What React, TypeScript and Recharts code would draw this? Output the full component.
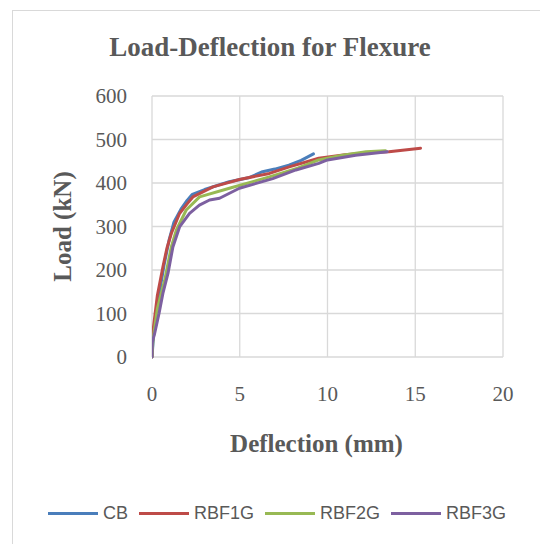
import React from "react";
import { LineChart, Line, XAxis, YAxis, CartesianGrid } from "recharts";

const seriesNames = ["CB", "RBF1G", "RBF2G", "RBF3G"];
const seriesColors = ["#4A7EBB", "#BE4B48", "#98B954", "#7D60A0"];

const xTicks = [0, 5, 10, 15, 20];
const yTicks = [0, 100, 200, 300, 400, 500, 600];

const cbDeflection = [0, 0.1, 0.35, 0.68, 0.98, 1.25, 1.65, 2.0, 2.3, 3.0, 4.4, 5.5, 6.3, 7.0, 7.8, 8.5, 9.2];
const cbLoad = [0, 55, 130, 210, 270, 310, 340, 360, 374, 385, 403, 412, 426, 432, 441, 452, 467];

const rbf1gDeflection = [0, 0.06, 0.3, 0.62, 0.85, 1.1, 1.57, 2.0, 2.33, 3.47, 4.98, 6.69, 7.82, 9.5, 11.0, 12.5, 13.5, 15.3];
const rbf1gLoad = [0, 61, 140, 207, 250, 284, 330, 352, 368, 391, 408, 422, 437, 457, 465, 470, 472, 480];

const rbf2gDeflection = [0, 0.05, 0.3, 0.72, 1.1, 1.39, 1.95, 2.71, 4.41, 6.69, 8.3, 9.5, 10.85, 12.2, 13.3];
const rbf2gLoad = [0, 38, 110, 176, 253, 292, 338, 368, 388, 414, 434, 453, 464, 472, 474];

const rbf3gDeflection = [0, 0.02, 0.15, 0.4, 0.62, 0.91, 1.19, 1.57, 2.14, 2.7, 3.28, 3.85, 4.98, 6.88, 8.2, 9.5, 10.0, 11.6, 13.4];
const rbf3gLoad = [0, 35, 54, 100, 146, 192, 253, 299, 330, 349, 361, 365, 388, 410, 430, 445, 453, 464, 472];

const zip = (xs: number[], ys: number[]) => xs.map((x, i) => ({ x, y: ys[i] }));

const seriesData = [
  zip(cbDeflection, cbLoad),
  zip(rbf1gDeflection, rbf1gLoad),
  zip(rbf2gDeflection, rbf2gLoad),
  zip(rbf3gDeflection, rbf3gLoad),
];

const textColor = "#595959";
const serif = "'Liberation Serif', 'Times New Roman', serif";
const sans = "'Liberation Sans', Arial, sans-serif";

const YTitle = (props: any) => {
  const vb = props.viewBox || { x: 0, y: 0, width: 0, height: 0 };
  const cx = vb.x + 62;
  const cy = vb.y + vb.height / 2;
  return (
    <text
      x={cx}
      y={cy}
      transform={`rotate(-90, ${cx}, ${cy})`}
      textAnchor="middle"
      dominantBaseline="central"
      fontFamily={serif}
      fontWeight="bold"
      fontSize={25}
      fill={textColor}
    >
      Load (kN)
    </text>
  );
};

const XTitle = (props: any) => {
  const vb = props.viewBox || { x: 0, y: 0, width: 0, height: 0 };
  const cx = vb.x + vb.width / 2 - 11;
  const cy = vb.y + 86;
  return (
    <text
      x={cx}
      y={cy}
      textAnchor="middle"
      dominantBaseline="central"
      fontFamily={serif}
      fontWeight="bold"
      fontSize={25}
      fill={textColor}
    >
      Deflection (mm)
    </text>
  );
};

export default function App() {
  return (
    <div style={{ position: "absolute", left: 0, top: 0, width: 540, height: 544, background: "#fff", overflow: "hidden" }}>
      <div
        style={{
          position: "absolute",
          left: 12,
          top: 10,
          width: 560,
          height: 560,
          border: "1.5px solid #d9d9d9",
          boxSizing: "border-box",
        }}
      />
      <div
        style={{
          position: "absolute",
          left: 0,
          top: 30,
          width: 540,
          textAlign: "center",
          fontFamily: serif,
          fontWeight: "bold",
          fontSize: 27,
          color: textColor,
          lineHeight: "34px",
        }}
      >
        Load-Deflection for Flexure
      </div>
      <div style={{ position: "absolute", left: 0, top: 0 }}>
        <LineChart width={540} height={544} margin={{ top: 96, right: 37, bottom: 0, left: 0 }}>
          <CartesianGrid stroke="#d9d9d9" strokeWidth={1.3} horizontal vertical />
          <XAxis
            type="number"
            dataKey="x"
            domain={[0, 20]}
            ticks={xTicks}
            allowDataOverflow
            height={187}
            axisLine={false}
            tickLine={false}
            tickSize={0}
            tickMargin={29}
            tick={{ fontFamily: serif, fontSize: 21, fill: textColor }}
            label={{ content: XTitle }}
          />
          <YAxis
            type="number"
            dataKey="y"
            domain={[0, 600]}
            ticks={yTicks}
            width={152}
            axisLine={false}
            tickLine={false}
            tickSize={0}
            tickMargin={25}
            tick={{ fontFamily: serif, fontSize: 21, fill: textColor }}
            label={{ content: YTitle }}
          />
          {seriesData.map((d, i) => (
            <Line
              key={seriesNames[i]}
              data={d}
              dataKey="y"
              name={seriesNames[i]}
              type="linear"
              stroke={seriesColors[i]}
              strokeWidth={3}
              strokeLinejoin="round"
              strokeLinecap="round"
              dot={false}
              isAnimationActive={false}
            />
          ))}
        </LineChart>
      </div>
      <div
        style={{
          position: "absolute",
          left: 48,
          top: 502,
          display: "flex",
          alignItems: "center",
          fontFamily: sans,
          fontSize: 18,
          color: textColor,
          lineHeight: "22px",
        }}
      >
        {seriesNames.map((n, i) => (
          <div key={n} style={{ display: "flex", alignItems: "center", marginRight: 11 }}>
            <div style={{ width: 50, height: 3, background: seriesColors[i], marginRight: 5 }} />
            <span>{n}</span>
          </div>
        ))}
      </div>
    </div>
  );
}
